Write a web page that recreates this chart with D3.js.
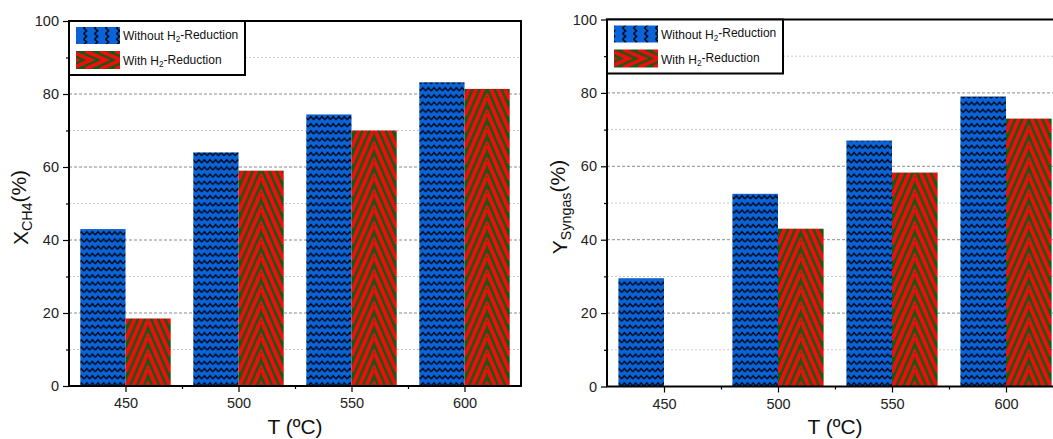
<!DOCTYPE html>
<html>
<head>
<meta charset="utf-8">
<script src="https://cdn.jsdelivr.net/npm/d3@7"></script>
<style>
  html, body { margin: 0; padding: 0; background: #fff; }
  svg { display: block; font-family: Arial, "Liberation Sans", sans-serif; }
</style>
</head>
<body>
<svg id="chart" width="1053" height="439"></svg>
<script>
// Reaction temperatures (°C)
const temps = [450, 500, 550, 600];
// CH4 conversion (%)
const xch4Without = [43.0, 64.0, 74.4, 83.2];
const xch4With = [18.5, 59.0, 70.0, 81.4];
// Syngas yield (%) — no reading with H2 reduction at 450 °C
const syngasWithout = [29.5, 52.5, 67.0, 79.0];
const syngasWith = [null, 43.0, 58.3, 73.0];
// Axis ticks
const xTicks = [450, 500, 550, 600];
const xMinorTicks = [475, 525, 575];
const yTicks = [0, 20, 40, 60, 80, 100];
const yMinorTicks = [10, 30, 50, 70, 90];
const seriesNames = ["Without H", "With H"];

const BLUE = "#0a63d8";
const RED = "#f20c0c";
const GREEN = "#145a14";

const svg = d3.select("#chart");
const defs = svg.append("defs");

// Blue fill with black zigzag rows
function zigzagPattern(id, rowGap, rotate) {
  const w = 5.6, amp = 3.2;
  const p = defs.append("pattern")
    .attr("id", id)
    .attr("patternUnits", "userSpaceOnUse")
    .attr("width", w).attr("height", rowGap);
  if (rotate) p.attr("patternTransform", "rotate(90)");
  p.append("rect").attr("width", w).attr("height", rowGap).attr("fill", BLUE);
  p.append("path")
    .attr("d", `M0,${1.4 + amp} L${w / 2},1.4 L${w},${1.4 + amp}`)
    .attr("fill", "none").attr("stroke", "#000").attr("stroke-width", 1.4);
  return "url(#" + id + ")";
}

// Red / green chevrons pointing up, apex on the bar centre
function chevronPattern(id, x0, w) {
  const H = 16, s = 2.3, cx = w / 2;
  const p = defs.append("pattern")
    .attr("id", id)
    .attr("patternUnits", "userSpaceOnUse")
    .attr("x", x0).attr("y", 0)
    .attr("width", w).attr("height", H);
  p.append("rect").attr("width", w).attr("height", H).attr("fill", GREEN);
  d3.range(-5, 3).forEach(k => {
    p.append("path")
      .attr("d", `M0,${k * H + s * cx} L${cx},${k * H} L${w},${k * H + s * cx}`)
      .attr("fill", "none").attr("stroke", RED)
      .attr("stroke-width", 3.9).attr("stroke-linejoin", "miter");
  });
  p.append("line")
    .attr("x1", cx).attr("x2", cx).attr("y1", 0).attr("y2", H)
    .attr("stroke", GREEN).attr("stroke-width", 1).attr("stroke-dasharray", "2,2");
  return "url(#" + id + ")";
}

// Chevrons pointing right, for the legend swatch
function chevronRightPattern(id, x0, y0, h) {
  const W = 15, s = 2.3, cy = h / 2;
  const p = defs.append("pattern")
    .attr("id", id)
    .attr("patternUnits", "userSpaceOnUse")
    .attr("x", x0).attr("y", y0)
    .attr("width", W).attr("height", h);
  p.append("rect").attr("width", W).attr("height", h).attr("fill", GREEN);
  d3.range(-2, 6).forEach(k => {
    p.append("path")
      .attr("d", `M${k * W - s * cy},0 L${k * W},${cy} L${k * W - s * cy},${h}`)
      .attr("fill", "none").attr("stroke", RED)
      .attr("stroke-width", 3.6).attr("stroke-linejoin", "miter");
  });
  return "url(#" + id + ")";
}

const blueFill = zigzagPattern("zig", 7.2, false);
const blueLegendFill = zigzagPattern("zigLegend", 11, true);

function subText(sel, parts) {
  // parts: [text, isSub]
  parts.forEach(([t, sub], i) => {
    const ts = sel.append("tspan").text(t);
    if (sub) ts.attr("font-size", "0.68em").attr("dy", "0.3em");
    else if (i > 0 && parts[i - 1][1]) ts.attr("dy", "-0.3em");
  });
}

function drawPanel(cfg) {
  const { left, right, top, bottom, without, withH, yTitle, key } = cfg;
  const x = d3.scaleLinear().domain([425, 625]).range([left, right]);
  const y = d3.scaleLinear().domain([0, 100]).range([bottom, top]);
  const g = svg.append("g");
  const clipId = "clip-" + key;
  defs.append("clipPath").attr("id", clipId)
    .append("rect").attr("x", left).attr("y", top - 5)
    .attr("width", right - left).attr("height", bottom - top + 5);

  // grid lines
  g.append("g").selectAll("line").data(yMinorTicks).join("line")
    .attr("x1", left).attr("x2", right)
    .attr("y1", d => y(d)).attr("y2", d => y(d))
    .attr("stroke", "#c8c8c8").attr("stroke-width", 1).attr("stroke-dasharray", "2,2");
  g.append("g").selectAll("line").data(yTicks.filter(d => d > 0 && d < 100)).join("line")
    .attr("x1", left).attr("x2", right)
    .attr("y1", d => y(d)).attr("y2", d => y(d))
    .attr("stroke", "#8a8a8a").attr("stroke-width", 1).attr("stroke-dasharray", "3,2");

  const bars = g.append("g").attr("clip-path", `url(#${clipId})`);
  const bw = 20;
  bars.selectAll("rect.wo").data(temps).join("rect")
    .attr("class", "wo")
    .attr("x", d => x(d - bw)).attr("width", x(bw) - x(0))
    .attr("y", (d, i) => y(without[i])).attr("height", (d, i) => y(0) - y(without[i]))
    .attr("fill", blueFill);
  temps.forEach((t, i) => {
    const v = withH[i];
    if (v == null) return;
    const fill = chevronPattern(`chev-${key}-${i}`, x(t), x(t + bw) - x(t));
    bars.append("rect")
      .attr("x", x(t)).attr("width", x(t + bw) - x(t))
      .attr("y", y(v)).attr("height", y(0) - y(v))
      .attr("fill", fill);
  });

  // axes
  const tickFont = s => s.selectAll("text").attr("font-size", 14.5).attr("fill", "#222")
    .attr("font-family", "Arial, 'Liberation Sans', sans-serif");
  const ax = g.append("g").attr("transform", `translate(0,${bottom})`)
    .call(d3.axisBottom(x).tickValues(xTicks).tickSize(6).tickSizeOuter(0).tickPadding(6).tickFormat(d3.format("d")));
  ax.call(tickFont);
  g.append("g").attr("transform", `translate(0,${bottom})`)
    .call(d3.axisBottom(x).tickValues(xMinorTicks).tickSize(3).tickSizeOuter(0).tickFormat(""));
  const ay = g.append("g").attr("transform", `translate(${left},0)`)
    .call(d3.axisLeft(y).tickValues(yTicks).tickSize(6).tickSizeOuter(0).tickPadding(4));
  ay.call(tickFont);
  g.append("g").attr("transform", `translate(${left},0)`)
    .call(d3.axisLeft(y).tickValues(yMinorTicks).tickSize(3).tickSizeOuter(0).tickFormat(""));
  g.selectAll(".domain").remove();
  g.selectAll(".tick line").attr("stroke", "#000").attr("stroke-width", 1.2);

  // frame
  g.append("rect").attr("x", left).attr("y", top)
    .attr("width", right - left).attr("height", bottom - top)
    .attr("fill", "none").attr("stroke", "#000").attr("stroke-width", 2);

  // axis titles
  g.append("text").attr("x", x(525)).attr("y", 434)
    .attr("text-anchor", "middle").attr("font-size", 21).attr("fill", "#111")
    .text("T (ºC)");
  const yt = g.append("text")
    .attr("transform", `translate(${cfg.yTitleX},${(top + bottom) / 2 + 4}) rotate(-90)`)
    .attr("text-anchor", "middle").attr("font-size", 21).attr("fill", "#111");
  subText(yt, yTitle);

  // legend
  const lg = g.append("g");
  const lx = left, ly = top;
  lg.append("rect").attr("x", lx).attr("y", ly).attr("width", 176).attr("height", 54)
    .attr("fill", "#fff").attr("stroke", "#000").attr("stroke-width", 2);
  lg.append("rect").attr("x", lx + 7).attr("y", ly + 6).attr("width", 44).attr("height", 17)
    .attr("fill", blueLegendFill);
  const rf = chevronRightPattern(`chevLeg-${key}`, lx + 7, ly + 30, 18);
  lg.append("rect").attr("x", lx + 7).attr("y", ly + 30).attr("width", 44).attr("height", 18)
    .attr("fill", rf);
  [[seriesNames[0], ly + 19], [seriesNames[1], ly + 44]].forEach(([n, ty]) => {
    const t = lg.append("text").attr("x", lx + 54).attr("y", ty)
      .attr("font-size", 12).attr("fill", "#111");
    subText(t, [[n, false], ["2", true], ["-Reduction", false]]);
  });
}

drawPanel({
  key: "a", left: 69, right: 521, top: 21, bottom: 386,
  without: xch4Without, withH: xch4With,
  yTitle: [["X", false], ["CH4", true], ["(%)", false]], yTitleX: 28
});
drawPanel({
  key: "b", left: 607, right: 1063, top: 19.5, bottom: 386.5,
  without: syngasWithout, withH: syngasWith,
  yTitle: [["Y", false], ["Syngas", true], ["(%)", false]], yTitleX: 567
});
</script>
</body>
</html>
